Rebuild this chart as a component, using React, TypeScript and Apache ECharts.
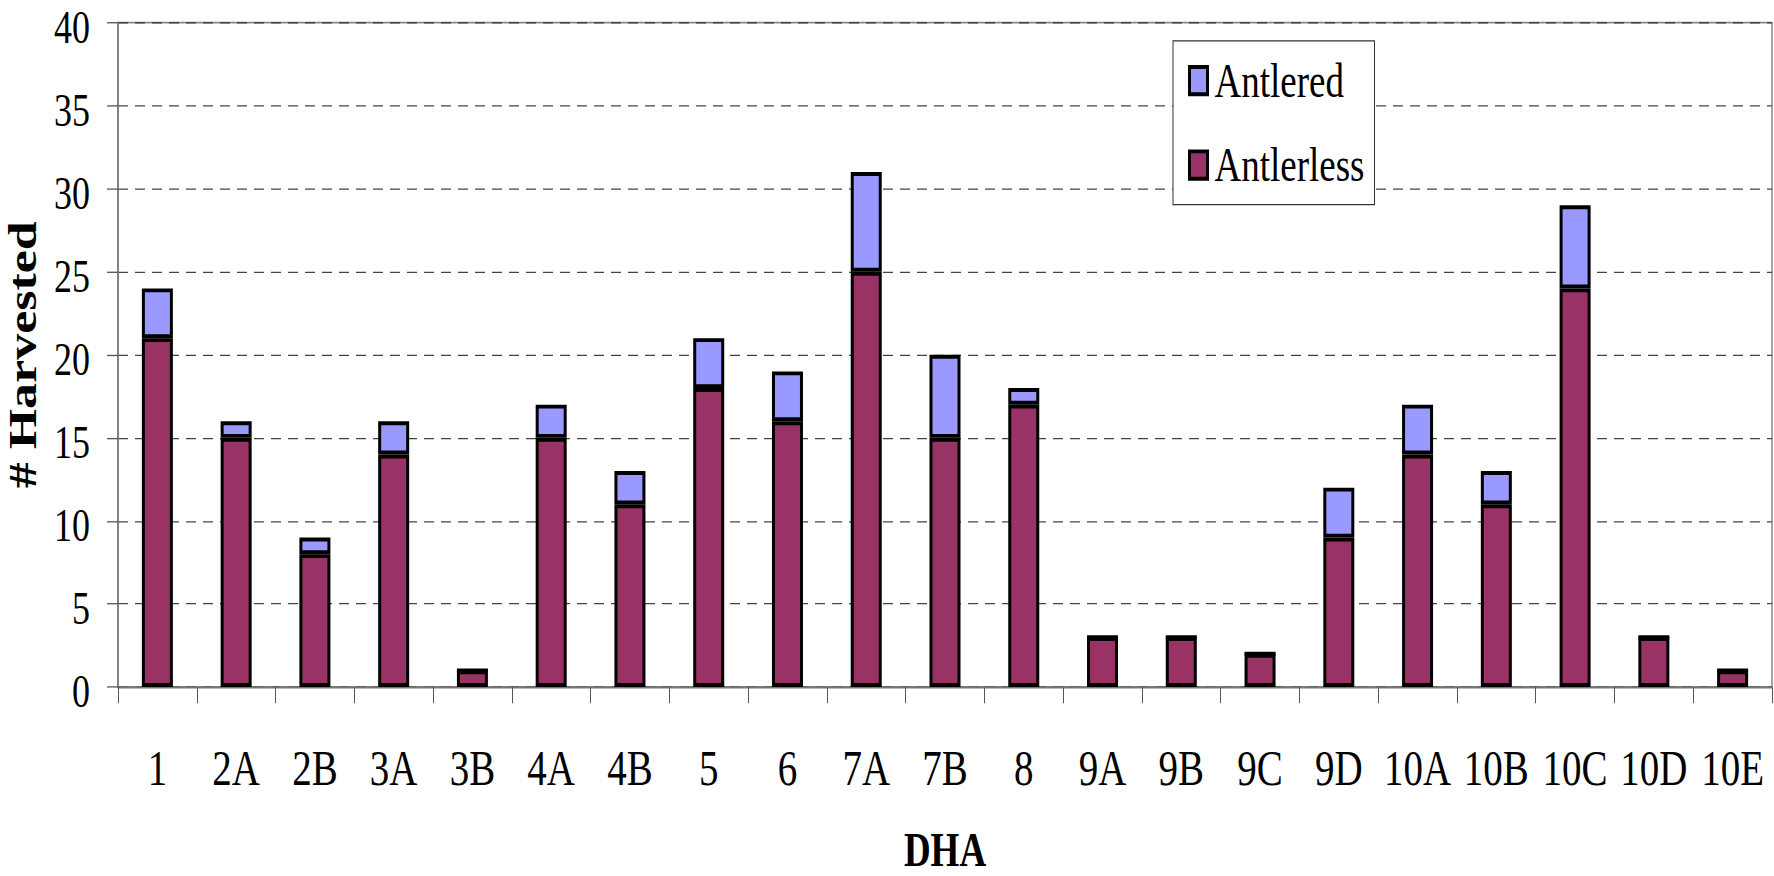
import React, { useEffect, useRef } from "react";
import * as echarts from "echarts";

const categories = ["1", "2A", "2B", "3A", "3B", "4A", "4B", "5", "6", "7A", "7B", "8", "9A", "9B", "9C", "9D", "10A", "10B", "10C", "10D", "10E"];
const antlerless = [21, 15, 8, 14, 1, 15, 11, 18, 16, 25, 15, 17, 3, 3, 2, 9, 14, 11, 24, 3, 1];
const antlered = [3, 1, 1, 2, 0, 2, 2, 3, 3, 6, 5, 1, 0, 0, 0, 3, 3, 2, 5, 0, 0];
const yTicks = { min: 0, max: 40, interval: 5 };

const W = 1774;
const H = 674;
const S = 876 / H;
const FONT = "'Liberation Serif', 'Times New Roman', serif";

export default function App() {
  const ref = useRef<HTMLDivElement>(null);
  useEffect(() => {
    if (!ref.current) return;
    const chart = echarts.init(ref.current, null, { renderer: "svg" });
    chart.setOption({
      animation: false,
      backgroundColor: "#fff",
      grid: {
        left: 118,
        right: 2,
        top: 17.4,
        bottom: 145.4,
        outerBoundsMode: "none",
        show: true,
        borderColor: "#888",
        borderWidth: 1.5,
        backgroundColor: "transparent",
      },
      legend: {
        orient: "vertical",
        left: 1173,
        top: 31.5,
        padding: [12, 10, 12, 15],
        itemGap: 28,
        itemWidth: 18,
        itemHeight: 21,
        borderColor: "#333",
        borderWidth: 1,
        backgroundColor: "#fff",
        icon: "rect",
        data: ["Antlered", "Antlerless"],
        textStyle: { fontFamily: FONT, fontSize: 37, color: "#000", padding: [0, 0, 0, 2] },
        itemStyle: { borderColor: "#000", borderWidth: 3 },
      },
      xAxis: {
        type: "category",
        data: categories,
        name: "DHA",
        nameLocation: "middle",
        nameGap: 110,
        nameTextStyle: { fontFamily: FONT, fontSize: 37, lineHeight: 30, fontWeight: "bold", color: "#000" },
        axisLine: { lineStyle: { color: "#777", width: 1.5 } },
        axisTick: { show: true, length: 12.5, lineStyle: { color: "#555", width: 1 } },
        axisLabel: { interval: 0, fontFamily: FONT, fontSize: 39, color: "#000", margin: 43 },
      },
      yAxis: {
        type: "value",
        min: yTicks.min,
        max: yTicks.max,
        interval: yTicks.interval,
        name: "# Harvested",
        nameLocation: "middle",
        nameRotate: 90,
        nameGap: 67,
        nameTextStyle: { fontFamily: FONT, fontSize: 40, fontWeight: "bold", color: "#000" },
        axisLine: { show: true, lineStyle: { color: "#777", width: 1.5 } },
        axisTick: { show: true, length: 11, lineStyle: { color: "#555", width: 1 } },
        axisLabel: {
          color: "#000",
          margin: 28,
          formatter: "{v|{value}}",
          rich: {
            v: { fontFamily: FONT, fontSize: 36, lineHeight: 26, padding: [7, 0, 0, 0], color: "#000" },
          },
        },
        splitLine: { show: true, lineStyle: { color: "#444", width: 1, type: [10, 7] } },
      },
      series: [
        {
          name: "Antlerless",
          type: "bar",
          stack: "total",
          barWidth: 31,
          data: antlerless,
          itemStyle: { color: "#993366", borderColor: "#000", borderWidth: 3 },
        },
        {
          name: "Antlered",
          type: "bar",
          stack: "total",
          barWidth: 31,
          data: antlered,
          itemStyle: { color: "#9999FF", borderColor: "#000", borderWidth: 3 },
        },
      ],
    });
    return () => chart.dispose();
  }, []);
  return (
    <div style={{ position: "fixed", left: 0, top: 0, width: W, height: 876, overflow: "hidden", background: "#fff" }}>
      <div
        ref={ref}
        style={{ width: W, height: H, transform: `scaleY(${S})`, transformOrigin: "0 0" }}
      />
    </div>
  );
}
